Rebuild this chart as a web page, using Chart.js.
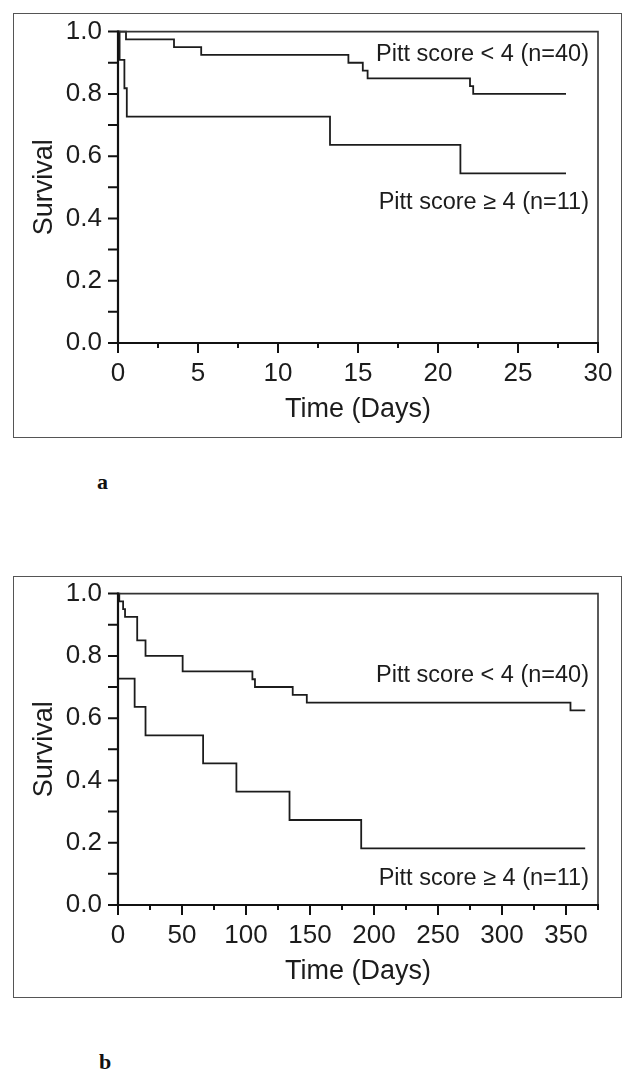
<!DOCTYPE html>
<html><head><meta charset="utf-8">
<script src="https://cdn.jsdelivr.net/npm/chart.js@4/dist/chart.umd.min.js"></script>
<style>
html,body{margin:0;padding:0;background:#fff}
body{width:629px;height:1080px;position:relative;overflow:hidden;font-family:"Liberation Sans",Arial,sans-serif}
.box{position:absolute;left:13px;width:609px;border:1.5px solid #555;box-sizing:border-box}
.cv{position:absolute;left:0}
.lab{position:absolute;font-family:"Liberation Serif","Times New Roman",serif;font-weight:bold;font-size:22px;color:#111;line-height:22px}
</style>
</head><body>
<div class="box" style="top:13px;height:425px"></div>
<div class="box" style="top:576px;height:422px"></div>
<canvas id="cA" class="cv" style="top:0px" width="629" height="437"></canvas>
<canvas id="cB" class="cv" style="top:562px" width="629" height="437"></canvas>
<div class="lab" style="left:97px;top:471px">a</div>
<div class="lab" style="left:99px;top:1051px">b</div>
<script>
// ---- Panel a: 28-day survival ----
const timeA_low  = [0, 0.5, 3.5, 5.2, 14.4, 15.3, 15.6, 22.0, 22.2, 28];
const survA_low  = [1.0, 0.975, 0.95, 0.925, 0.90, 0.875, 0.85, 0.825, 0.80, 0.80];
const timeA_high = [0, 0.1, 0.4, 0.55, 13.25, 21.4, 28];
const survA_high = [1.0, 0.909, 0.818, 0.727, 0.636, 0.545, 0.545];
// ---- Panel b: 1-year survival ----
const timeB_low  = [0, 1, 4, 5.5, 15, 21.5, 50.5, 105, 107, 136.5, 147.5, 353.5, 365];
const survB_low  = [1.0, 0.975, 0.95, 0.925, 0.85, 0.80, 0.75, 0.725, 0.70, 0.675, 0.65, 0.625, 0.625];
const timeB_high = [0, 0, 13, 21.5, 66.5, 92.5, 134, 190, 365];
const survB_high = [1.0, 0.727, 0.636, 0.545, 0.455, 0.364, 0.273, 0.182, 0.182];
// ---- ticks ----
const yTickValues = [0,0.1,0.2,0.3,0.4,0.5,0.6,0.7,0.8,0.9,1.0];
const yTickLabels = ['0.0','','0.2','','0.4','','0.6','','0.8','','1.0'];
const xTickValuesA = [0,2.5,5,7.5,10,12.5,15,17.5,20,22.5,25,27.5,30];
const xTickLabelsA = ['0','','5','','10','','15','','20','','25','','30'];
const xTickValuesB = [0,25,50,75,100,125,150,175,200,225,250,275,300,325,350,375];
const xTickLabelsB = ['0','','50','','100','','150','','200','','250','','300','','350',''];
const labelLow = 'Pitt score < 4 (n=40)';
const labelHigh = 'Pitt score \u2265 4 (n=11)';
const yTitle = 'Survival';
const xTitle = 'Time (Days)';

const INK = '#1c1c1c';
function pts(t, s){ return t.map((v,i)=>({x:v, y:s[i]})); }

function makeChart(id, xMax, xVals, xLabs, low, high, textPos){
  const frame = {
    id:'frame'+id,
    afterDraw(chart){
      const {ctx, chartArea:a, scales:{x, y}} = chart;
      ctx.save();
      ctx.lineCap='butt';
      ctx.strokeStyle='#333'; ctx.lineWidth=1.6;
      ctx.beginPath(); ctx.moveTo(a.left, a.top); ctx.lineTo(a.right, a.top); ctx.lineTo(a.right, a.bottom); ctx.stroke();
      ctx.strokeStyle='#111'; ctx.lineWidth=2.2;
      ctx.beginPath(); ctx.moveTo(a.left, a.top-1); ctx.lineTo(a.left, a.bottom); ctx.lineTo(a.right+1, a.bottom); ctx.stroke();
      ctx.lineWidth=2;
      ctx.beginPath();
      y.ticks.forEach(t=>{ const py=y.getPixelForValue(t.value); ctx.moveTo(a.left, py); ctx.lineTo(a.left-10, py); });
      x.ticks.forEach(t=>{ const px=x.getPixelForValue(t.value); const major = t.label!=='' ; ctx.moveTo(px, a.bottom); ctx.lineTo(px, a.bottom + (major?10:5)); });
      ctx.stroke();
      ctx.fillStyle=INK;
      ctx.font='23.5px "Liberation Sans", Arial, sans-serif';
      ctx.textAlign='right'; ctx.textBaseline='alphabetic';
      ctx.fillText(labelLow, textPos[0], textPos[1]);
      ctx.fillText(labelHigh, textPos[0], textPos[2]);
      ctx.restore();
    }
  };
  return new Chart(document.getElementById(id), {
    type:'line',
    data:{datasets:[
      {data:pts(low[0], low[1]), stepped:true, borderColor:INK, borderWidth:1.8, pointRadius:0, fill:false, clip:6},
      {data:pts(high[0], high[1]), stepped:true, borderColor:INK, borderWidth:1.8, pointRadius:0, fill:false, clip:6}
    ]},
    options:{
      responsive:false, animation:false, events:[],
      layout:{padding:{left:0, right:31, top:id==='cA'?30:29, bottom:0}},
      plugins:{legend:{display:false}, tooltip:{enabled:false}},
      scales:{
        x:{type:'linear', min:0, max:xMax,
          grid:{display:false, drawTicks:false, tickLength:0}, border:{display:false},
          afterBuildTicks:s=>{ s.ticks = xVals.map(v=>({value:v})); },
          afterFit:s=>{ s.height = 94; },
          ticks:{autoSkip:false, maxRotation:0, padding:15, color:INK,
            font:{family:'"Liberation Sans", Arial, sans-serif', size:26},
            callback:(v)=>{ const i = xVals.indexOf(v); return i>=0 ? xLabs[i] : ''; }},
          title:{display:true, text:xTitle, color:INK, padding:{top:0,bottom:11},
            font:{family:'"Liberation Sans", Arial, sans-serif', size:27}}
        },
        y:{type:'linear', min:0, max:1,
          grid:{display:false, drawTicks:false, tickLength:0}, border:{display:false},
          afterBuildTicks:s=>{ s.ticks = yTickValues.map(v=>({value:v})); },
          afterFit:s=>{ s.width = 118; },
          ticks:{autoSkip:false, padding:16, color:INK,
            font:{family:'"Liberation Sans", Arial, sans-serif', size:26},
            callback:(v)=>{ const i = yTickValues.findIndex(u=>Math.abs(u-v)<1e-9); return i>=0 ? yTickLabels[i] : ''; }},
          title:{display:true, text:yTitle, color:INK, padding:{top:28,bottom:0},
            font:{family:'"Liberation Sans", Arial, sans-serif', size:27}}
        }
      }
    },
    plugins:[frame]
  });
}

makeChart('cA', 30, xTickValuesA, xTickLabelsA, [timeA_low, survA_low], [timeA_high, survA_high], [589, 60.7, 209]);
makeChart('cB', 375, xTickValuesB, xTickLabelsB, [timeB_low, survB_low], [timeB_high, survB_high], [589, 119.7, 323]);
</script>
</body></html>
